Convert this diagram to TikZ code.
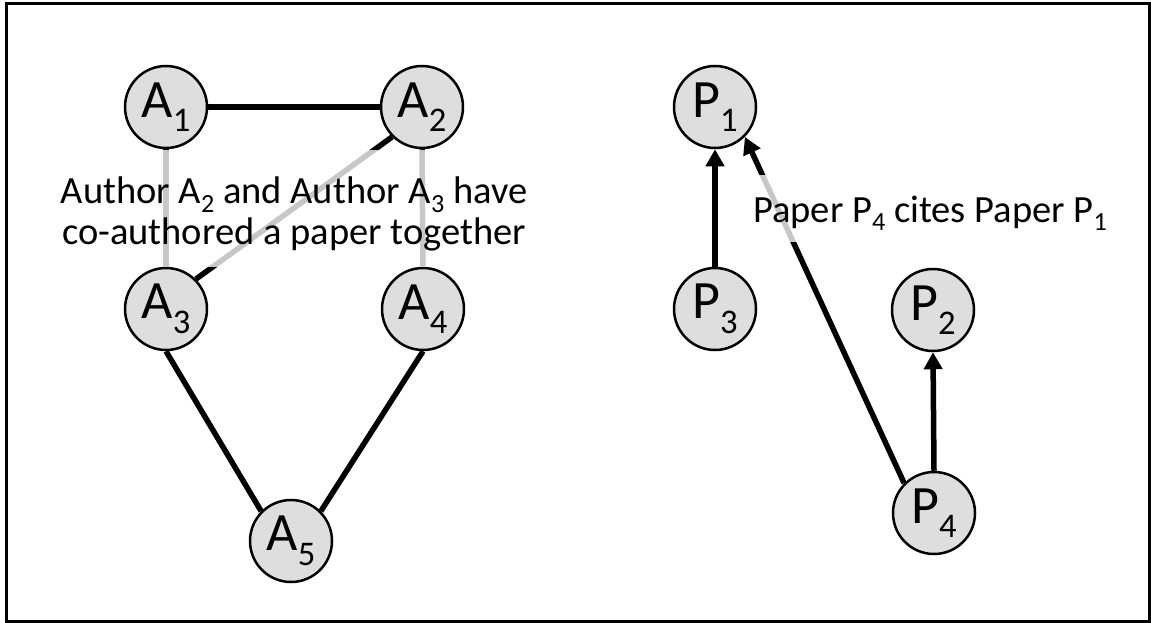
\documentclass[tikz,border=0pt]{standalone}
\usepackage{fontspec}
\setmainfont{Carlito}
\usetikzlibrary{arrows.meta}
\definecolor{nodegray}{RGB}{222,222,222}
\newcommand\nsub[1]{\raisebox{-0.27em}{\scalebox{0.64}{#1}}}
\newcommand\tsub[1]{\raisebox{-0.22em}{\scalebox{0.68}{#1}}}
\begin{document}
\begin{tikzpicture}[x=1pt,y=-1pt,
  vtx/.style={circle, draw=black, line width=2.5pt, fill=nodegray, minimum size=82pt, inner sep=0pt, font=\fontsize{54}{56}\selectfont},
  edge/.style={line width=5.5pt},
  arr/.style={line width=5.5pt, -{Triangle[length=17pt,width=18pt]}},
  veil/.style={fill=white, fill opacity=0.78, draw=none},
  lbl/.style={font=\fontsize{38.5}{41}\selectfont, inner sep=0pt}]
\useasboundingbox (0,0) rectangle (1151,623);
\draw[line width=3pt] (6,4) rectangle (1149.5,621);
% author nodes
\node[vtx] (A1) at (166,107) {A\nsub{1}};
\node[vtx] (A2) at (422,107) {A\nsub{2}};
\node[vtx] (A3) at (166,309) {A\nsub{3}};
\node[vtx] (A4) at (423,309) {A\nsub{4}};
\node[vtx] (A5) at (291,541) {A\nsub{5}};
% paper nodes
\node[vtx] (P1) at (715,107) {P\nsub{1}};
\node[vtx] (P3) at (715,309) {P\nsub{3}};
\node[vtx] (P2) at (933,310) {P\nsub{2}};
\node[vtx] (P4) at (934,513) {P\nsub{4}};
% author edges
\draw[edge] (A1.east) -- (A2.west);
\draw[edge] (A1.south) -- (A3.north);
\draw[edge] (A2.south) -- (A4.north);
\draw[edge] (A2.south west) -- (A3.north east);
\draw[edge] (A3.south) -- (A5.north west);
\draw[edge] (A4.south) -- (A5.north east);
% citation arrows
\draw[arr] (P3.north) -- (P1.south);
\draw[arr] (P4.north west) -- (P1.south east);
\draw[arr] (P4.north) -- (P2.south);
% translucent text boxes
\fill[veil] (44,150) rectangle (544,267);
\fill[veil] (742,175) rectangle (1107,242);
\node[lbl, align=center] (atext) at (294,214) {Author A\tsub{2} and Author A\tsub{3} have\\co-authored a paper together};
\node[lbl, anchor=base west] (ptext) at (753,222) {Paper P\tsub{4} cites Paper P\tsub{1}};
\end{tikzpicture}
\end{document}
